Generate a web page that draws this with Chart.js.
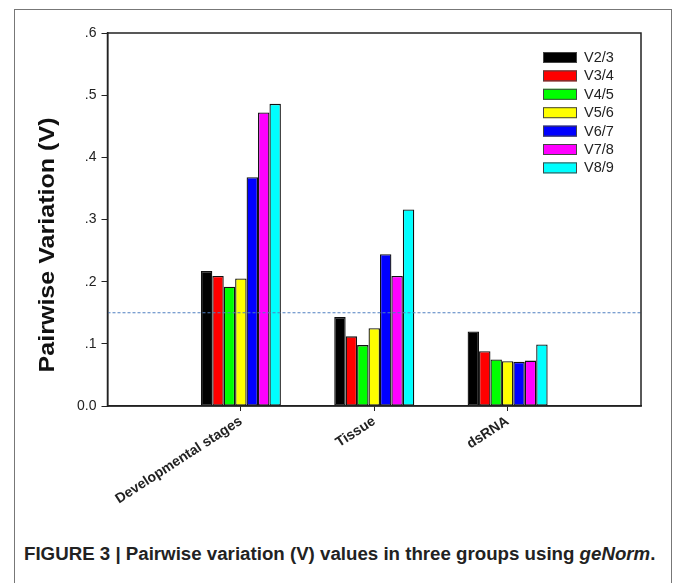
<!DOCTYPE html>
<html>
<head>
<meta charset="utf-8">
<script src="https://cdn.jsdelivr.net/npm/chart.js@4.4.0/dist/chart.umd.min.js"></script>
<style>
html, body { margin: 0; padding: 0; background: #fff; }
body { width: 673px; height: 583px; position: relative; overflow: hidden; font-family: Arial, "Liberation Sans", sans-serif; }
#frame { position: absolute; left: 14px; top: 9px; width: 656px; height: 620px; border: 1px solid #777; }
#wrap { position: absolute; left: 0; top: 0; width: 673px; height: 530px; }
#caption { position: absolute; left: 24px; top: 543px; font-size: 18.7px; font-weight: bold; color: #222; white-space: nowrap; }
</style>
</head>
<body>
<div id="frame"></div>
<div id="wrap"><canvas id="chart"></canvas></div>
<div id="caption">FIGURE 3 | Pairwise variation (V) values in three groups using <i>geNorm</i>.</div>
<script>
// groups on the x axis (empty slots at both ends, like the original plot)
const groups = ['Developmental stages', 'Tissue', 'dsRNA'];
const seriesNames = ['V2/3', 'V3/4', 'V4/5', 'V5/6', 'V6/7', 'V7/8', 'V8/9'];
const seriesColors = ['#000000', '#ff0000', '#00ff00', '#ffff00', '#0000ff', '#ff00ff', '#00ffff'];

// pairwise variation values, one array per Vn/n+1, order = groups
const v23 = [0.217, 0.143, 0.120];
const v34 = [0.209, 0.112, 0.088];
const v45 = [0.192, 0.098, 0.075];
const v56 = [0.205, 0.125, 0.072];
const v67 = [0.368, 0.244, 0.071];
const v78 = [0.472, 0.209, 0.073];
const v89 = [0.486, 0.316, 0.099];
const seriesValues = [v23, v34, v45, v56, v67, v78, v89];

const cutoff = 0.15;
const yTickLabels = ['0.0', '.1', '.2', '.3', '.4', '.5', '.6'];
const yTitle = 'Pairwise Variation (V)';

const xLabels = [''].concat(groups, ['']);

const barSets = seriesNames.map((name, i) => ({
    type: 'bar',
    label: name,
    data: [null].concat(seriesValues[i], [null]),
    backgroundColor: seriesColors[i],
    borderColor: '#111',
    borderWidth: 1.3,
    borderSkipped: false,
    categoryPercentage: 0.6,
    barPercentage: 1,
    order: 1
}));

const cutLine = {
    type: 'line',
    label: 'cutoff',
    data: xLabels.map(() => cutoff),
    borderColor: '#4f7fc0',
    borderWidth: 1,
    borderDash: [3, 2],
    pointRadius: 0,
    order: 0
};

// box around plot, legend inside it, y title
const extras = {
    id: 'extras',
    afterDatasetsDraw(chart) {
        const ctx = chart.ctx;
        const a = chart.chartArea;
        ctx.save();
        ctx.strokeStyle = '#222';
        ctx.lineWidth = 1.5;
        ctx.strokeRect(a.left, a.top, a.right - a.left, a.bottom - a.top);

        // legend
        const bx = a.right - 98;
        let by = a.top + 19;
        ctx.font = '14.5px Arial, "Liberation Sans", sans-serif';
        ctx.textBaseline = 'middle';
        ctx.textAlign = 'left';
        seriesNames.forEach((name, i) => {
            ctx.fillStyle = seriesColors[i];
            ctx.fillRect(bx, by, 34, 11);
            ctx.lineWidth = 1;
            ctx.strokeStyle = '#444';
            ctx.strokeRect(bx + 0.5, by + 0.5, 33, 10);
            ctx.fillStyle = '#222';
            ctx.fillText(name, bx + 41, by + 6);
            by += 18.4;
        });

        // y axis title, stretched to the original length
        ctx.translate(48, 245);
        ctx.rotate(-Math.PI / 2);
        ctx.font = 'bold 22px Arial, "Liberation Sans", sans-serif';
        ctx.scale(255 / ctx.measureText(yTitle).width, 1);
        ctx.textAlign = 'center';
        ctx.fillStyle = '#111';
        ctx.fillText(yTitle, 0, 0);
        ctx.restore();
    }
};

new Chart(document.getElementById('chart'), {
    data: { labels: xLabels, datasets: barSets.concat([cutLine]) },
    options: {
        responsive: true,
        maintainAspectRatio: false,
        animation: false,
        layout: { padding: { left: 0, top: 33, right: 32, bottom: 0 } },
        plugins: { legend: { display: false }, tooltip: { enabled: false } },
        scales: {
            x: {
                type: 'category',
                offset: false,
                afterFit: (s) => { s.height = 124; },
                grid: {
                    offset: false,
                    drawOnChartArea: false,
                    tickLength: 5,
                    color: (c) => (c.tick && c.tick.label) ? '#222' : 'rgba(0,0,0,0)'
                },
                border: { display: true, color: '#222', width: 1.5 },
                ticks: {
                    autoSkip: false,
                    minRotation: 33,
                    maxRotation: 33,
                    padding: 2,
                    color: '#222',
                    font: { family: 'Arial, "Liberation Sans", sans-serif', size: 14, weight: 'bold' }
                }
            },
            y: {
                min: 0,
                max: 0.6,
                afterFit: (s) => { s.width = 107.5; },
                grid: { drawOnChartArea: false, tickLength: 6, color: '#222' },
                border: { display: true, color: '#222', width: 1.5 },
                ticks: {
                    stepSize: 0.1,
                    padding: 5,
                    color: '#222',
                    font: { family: 'Arial, "Liberation Sans", sans-serif', size: 14 },
                    callback: (v, i) => yTickLabels[i]
                }
            }
        }
    },
    plugins: [extras]
});
</script>
</body>
</html>
